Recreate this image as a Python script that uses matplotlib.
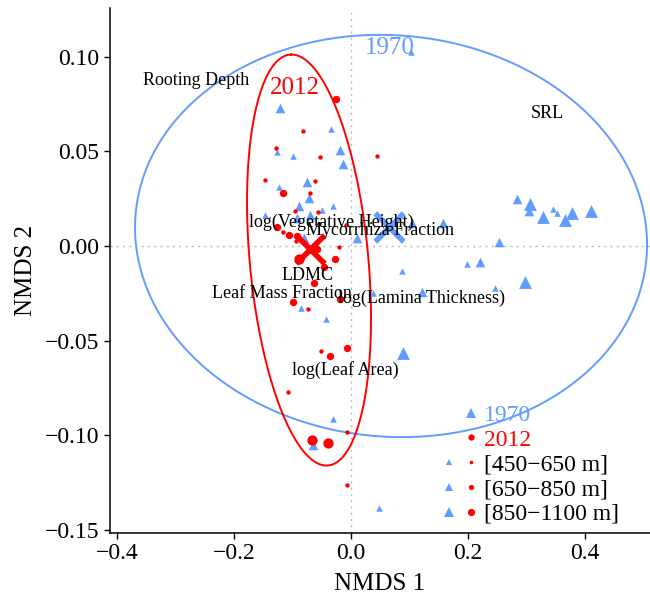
import numpy as np
import matplotlib
matplotlib.use("Agg")
import matplotlib.pyplot as plt
from matplotlib.lines import Line2D
from matplotlib.legend_handler import HandlerTuple

plt.rcParams["font.family"] = ["Liberation Serif", "DejaVu Serif"]

BLUE = "#619CFF"
RED = "#FF0000"

# plot scores, 1970 survey; band: 0 = 450-650 m, 1 = 650-850 m, 2 = 850-1100 m
x_1970 = [0.1026, -0.1214, -0.0342, -0.1265, -0.0991, -0.0188, -0.0137, -0.1231,
          -0.0752, -0.0718, -0.0889, -0.0496, -0.0308, -0.0701, -0.1470, -0.0923,
          -0.0803, 0.0103, 0.1043, 0.1573, 0.0872, 0.1983, 0.2205, 0.1214,
          0.0376, 0.2838, 0.3060, 0.3043, 0.3282, 0.3453, 0.3521, 0.3658,
          0.3778, 0.4103, 0.2530, 0.2974, 0.2462, -0.0855, -0.0427, 0.0889,
          -0.0308, -0.0650, 0.0479]
y_1970 = [0.1024, 0.0729, 0.0618, 0.0496, 0.0475, 0.0507, 0.0433, 0.0312,
          0.0338, 0.0253, 0.0211, 0.0190, 0.0211, 0.0164, 0.0164, 0.0148,
          0.0042, 0.0042, 0.0121, 0.0121, -0.0132, -0.0095, -0.0084, -0.0243,
          -0.0248, 0.0248, 0.0222, 0.0185, 0.0153, 0.0195, 0.0174, 0.0137,
          0.0174, 0.0185, 0.0021, -0.0190, -0.0222, -0.0327, -0.0385, -0.0565,
          -0.0913, -0.1051, -0.1383]
band_1970 = [0, 1, 0, 0, 0, 1, 1, 0,
             1, 1, 1, 0, 0, 1, 0, 1,
             1, 1, 1, 1, 0, 0, 1, 1,
             0, 1, 2, 1, 2, 0, 0, 2,
             2, 2, 1, 2, 0, 0, 0, 2,
             0, 1, 0]

# plot scores, 2012 resurvey
x_2012 = [-0.0256, -0.0821, -0.1282, -0.0530, 0.0444, -0.1470, -0.0615, -0.1162,
          -0.0701, -0.0564, -0.0957, -0.1265, -0.1162, -0.1060, -0.0923, -0.0940,
          -0.0581, -0.0205, -0.0274, -0.0889, -0.0462, -0.0632, -0.0991, -0.0735,
          -0.0188, -0.0068, -0.0513, -0.0359, -0.1077, -0.0068, -0.0667, -0.0393,
          -0.0068, -0.0085]
y_2012 = [0.0776, 0.0607, 0.0517, 0.0470, 0.0475, 0.0348, 0.0343, 0.0280,
          0.0280, 0.0180, 0.0185, 0.0100, 0.0074, 0.0058, 0.0053, 0.0026,
          -0.0016, -0.0005, -0.0069, -0.0069, -0.0111, -0.0195, -0.0296, -0.0333,
          -0.0280, -0.0539, -0.0554, -0.0581, -0.0771, -0.0982, -0.1024, -0.1040,
          -0.1262, 0.0111]
band_2012 = [1, 0, 0, 0, 0, 0, 0, 1,
             0, 0, 0, 1, 0, 1, 1, 0,
             1, 0, 1, 2, 1, 1, 1, 0,
             1, 1, 0, 1, 0, 0, 2, 2,
             0, 0]

# group centroids
centroid_1970 = (0.065, 0.0100)
centroid_2012 = (-0.0701, -0.0016)

# 95% ellipses: centre and two conjugate semi-axes
ell_1970_center = (0.0684, 0.0053)
ell_1970_a = (0.0, 0.1061)
ell_1970_b = (0.4376, -0.0045)
ell_2012_center = (-0.0718, -0.0074)
ell_2012_a = (-0.0308, 0.1085)
ell_2012_b = (0.1014, 0.0010)

# trait vectors (label positions)
traits = ["Rooting Depth", "SRL", "log(Vegetative Height)", "Mycorrhiza Fraction",
          "LDMC", "Leaf Mass Fraction", "log(Lamina Thickness)", "log(Leaf Area)"]
trait_x = [-0.265, 0.335, -0.034, 0.0496, -0.075, -0.118, 0.121, -0.010]
trait_y = [0.0876, 0.0702, 0.0127, 0.0084, -0.0153, -0.0248, -0.0275, -0.0655]

band_labels = ["[450\u2212650 m]", "[650\u2212850 m]", "[850\u22121100 m]"]

TRI_SIZES = [22, 48, 85]
DOT_SIZES = [10, 28, 55]


def ellipse(center, a, b, n=200):
    t = np.linspace(0, 2 * np.pi, n)
    x = center[0] + a[0] * np.cos(t) + b[0] * np.sin(t)
    y = center[1] + a[1] * np.cos(t) + b[1] * np.sin(t)
    return x, y


fig = plt.figure(figsize=(6.5, 5.96), dpi=100)
ax = fig.add_axes([0.1692, 0.1057, 0.8308, 0.881])

ax.axhline(0, color="#BBBBBB", linestyle=(0, (1.5, 3)), linewidth=1, zorder=0)
ax.axvline(0, color="#BBBBBB", linestyle=(0, (1.5, 3)), linewidth=1, zorder=0)

ex, ey = ellipse(ell_1970_center, ell_1970_a, ell_1970_b)
ax.plot(ex, ey, color=BLUE, linewidth=1.4, zorder=1)
ex, ey = ellipse(ell_2012_center, ell_2012_a, ell_2012_b)
ax.plot(ex, ey, color=RED, linewidth=1.4, zorder=1)

x70, y70, b70 = np.array(x_1970), np.array(y_1970), np.array(band_1970)
x12, y12, b12 = np.array(x_2012), np.array(y_2012), np.array(band_2012)
for k in range(3):
    m = b70 == k
    ax.scatter(x70[m], y70[m], marker="^", s=TRI_SIZES[k], color=BLUE,
               linewidths=0, zorder=2)
    m = b12 == k
    ax.scatter(x12[m], y12[m], marker="o", s=DOT_SIZES[k], color=RED,
               linewidths=0, zorder=3)

ax.scatter(*centroid_1970, marker="x", s=420, color=BLUE, linewidths=4, zorder=4)
ax.scatter(*centroid_2012, marker="x", s=420, color=RED, linewidths=4, zorder=4)

for name, tx, ty in zip(traits, trait_x, trait_y):
    ax.text(tx, ty, name, ha="center", va="center", fontsize=13, color="black", zorder=5)

ax.text(0.0667, 0.1045, "1970", color=BLUE, fontsize=18, ha="center", va="center")
ax.text(-0.0957, 0.0834, "2012", color=RED, fontsize=18, ha="center", va="center")

ax.set_xlim(-0.412, 0.511)
ax.set_ylim(-0.1515, 0.1257)
ax.set_xticks([-0.4, -0.2, 0.0, 0.2, 0.4])
ax.set_xticklabels(["\u22120.4", "\u22120.2", "0.0", "0.2", "0.4"])
ax.set_yticks([-0.15, -0.10, -0.05, 0.0, 0.05, 0.10])
ax.set_yticklabels(["\u22120.15", "\u22120.10", "\u22120.05", "0.00", "0.05", "0.10"])
ax.tick_params(labelsize=17, length=4, width=1, color="black", labelcolor="black")
ax.set_xlabel("NMDS 1", fontsize=18, labelpad=6)
ax.set_ylabel("NMDS 2", fontsize=18, labelpad=6)
for side in ["top", "right"]:
    ax.spines[side].set_visible(False)
for side in ["left", "bottom"]:
    ax.spines[side].set_linewidth(1.1)
    ax.spines[side].set_color("black")

blank = Line2D([], [], linestyle="none")
tri = [Line2D([], [], linestyle="none", marker="^", color=BLUE, markeredgewidth=0,
              markersize=ms) for ms in [4.5, 6.0, 7.5]]
dot = [Line2D([], [], linestyle="none", marker="o", color=RED, markeredgewidth=0,
              markersize=ms) for ms in [2.6, 3.8, 5.2]]
tri_key = Line2D([], [], linestyle="none", marker="^", color=BLUE, markeredgewidth=0, markersize=7.5)
dot_key = Line2D([], [], linestyle="none", marker="o", color=RED, markeredgewidth=0, markersize=4.5)
handles = [(blank, tri_key), (blank, dot_key)] + [(tri[k], dot[k]) for k in range(3)]
labels = ["1970", "2012"] + band_labels
leg = ax.legend(handles, labels, handler_map={tuple: HandlerTuple(ndivide=None, pad=0.3)},
                loc="lower right", bbox_to_anchor=(0.964, -0.007), frameon=False,
                fontsize=17, handlelength=1.6, handletextpad=0.2, labelspacing=0.135,
                borderpad=0)
text_colors = [BLUE, RED, "black", "black", "black"]
for t, c in zip(leg.get_texts(), text_colors):
    t.set_color(c)

fig.savefig("out.png", dpi=100)
